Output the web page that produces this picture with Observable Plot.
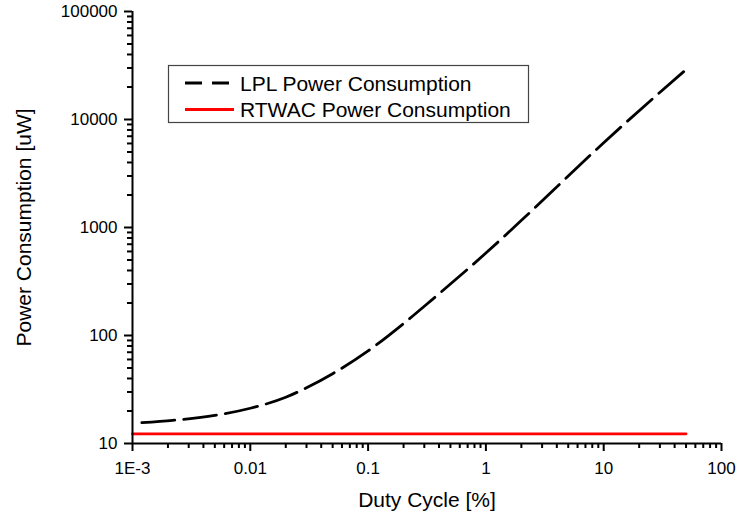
<!DOCTYPE html>
<html>
<head>
<meta charset="utf-8">
<script src="https://cdn.jsdelivr.net/npm/d3@7"></script>
<script src="https://cdn.jsdelivr.net/npm/@observablehq/plot@0.6"></script>
<style>
  html, body { margin: 0; padding: 0; background: #fff; }
  #chart { width: 738px; height: 517px; }
</style>
</head>
<body>
<div id="chart"></div>
<script>
// LPL series
const lplDuty = [0.0012, 0.0022, 0.005, 0.01, 0.02, 0.03, 0.05, 0.1, 0.2, 0.35, 1, 2.3, 10, 50];
const lplPower = [15.6, 16.4, 18.2, 21.2, 26.8, 32.8, 44.3, 72, 129, 215, 580, 1340, 6100, 29000];
// RTWAC series
const rtwacDuty = [0.001, 50];
const rtwacPower = [12.3, 12.3];

// axis ticks
const xTicks = [0.001, 0.01, 0.1, 1, 10, 100];
const xTickLabels = ["1E-3", "0.01", "0.1", "1", "10", "100"];
const yTicks = [10, 100, 1000, 10000, 100000];
const yTickLabels = ["10", "100", "1000", "10000", "100000"];
const xMinor = [];
for (let i = 0; i < xTicks.length - 1; i++) for (let k = 2; k <= 9; k++) xMinor.push(xTicks[i] * k);
const yMinor = [];
for (let i = 0; i < yTicks.length - 1; i++) for (let k = 2; k <= 9; k++) yMinor.push(yTicks[i] * k);

const seriesNames = ["LPL Power Consumption", "RTWAC Power Consumption"];
const xTitle = "Duty Cycle [%]";
const yTitle = "Power Consumption [uW]";

const lpl = lplDuty.map((d, i) => ({duty: d, power: lplPower[i]}));
const rtwac = rtwacDuty.map((d, i) => ({duty: d, power: rtwacPower[i]}));

const font = "'Liberation Sans', Arial, sans-serif";

const svg = Plot.plot({
  width: 738,
  height: 517,
  marginLeft: 132,
  marginRight: 17,
  marginTop: 11,
  marginBottom: 74,
  style: {fontFamily: font, fontSize: "17px", background: "#fff", color: "#000"},
  x: {type: "log", domain: [0.001, 100], nice: false},
  y: {type: "log", domain: [10, 100000], nice: false},
  marks: [
    Plot.axisX(xMinor, {tickSize: 5, strokeWidth: 2, tickFormat: () => "", label: null}),
    Plot.axisY(yMinor, {tickSize: 5, strokeWidth: 2, tickFormat: () => "", label: null}),
    Plot.axisX(xTicks, {tickSize: 8, strokeWidth: 2, tickPadding: 10, fontSize: 17,
      tickFormat: d => xTickLabels[xTicks.indexOf(d)], label: null}),
    Plot.axisY(yTicks, {tickSize: 8, strokeWidth: 2, tickPadding: 7, fontSize: 17,
      tickFormat: d => yTickLabels[yTicks.indexOf(d)], label: null}),
    Plot.line(rtwac, {x: "duty", y: "power", stroke: "#ff0000", strokeWidth: 2.8}),
    Plot.line(lpl, {x: "duty", y: "power", stroke: "#000", strokeWidth: 2.8,
      strokeDasharray: "33,9", curve: "monotone-x"}),
    Plot.ruleX([0.001], {stroke: "#000", strokeWidth: 2}),
    Plot.ruleY([10], {stroke: "#000", strokeWidth: 2}),
    Plot.text([xTitle], {frameAnchor: "bottom", dy: 63, lineAnchor: "bottom", textAnchor: "middle", fontSize: 21, fill: "#000"}),
    Plot.text([yTitle], {frameAnchor: "left", dx: -108, rotate: -90, lineAnchor: "middle", textAnchor: "middle", fontSize: 21, fill: "#000"})
  ]
});

// Legend box
const g = d3.select(svg).append("g").attr("font-family", font).attr("font-size", 21).attr("text-anchor", "start");
g.append("rect").attr("x", 168.5).attr("y", 65.5).attr("width", 360).attr("height", 57)
  .attr("fill", "#fff").attr("stroke", "#444").attr("stroke-width", 1.2);
const rows = [
  {name: seriesNames[0], color: "#000", dash: "17,10", y: 83, base: 90.5},
  {name: seriesNames[1], color: "#ff0000", dash: null, y: 109.5, base: 117.3}
];
rows.forEach(r => {
  const l = g.append("line").attr("x1", 185).attr("x2", 234).attr("y1", r.y).attr("y2", r.y)
    .attr("stroke", r.color).attr("stroke-width", 2.8);
  if (r.dash) l.attr("stroke-dasharray", r.dash);
  g.append("text").attr("x", 240).attr("y", r.base).attr("fill", "#000").attr("text-anchor", "start").text(r.name);
});

document.getElementById("chart").appendChild(svg);
</script>
</body>
</html>
